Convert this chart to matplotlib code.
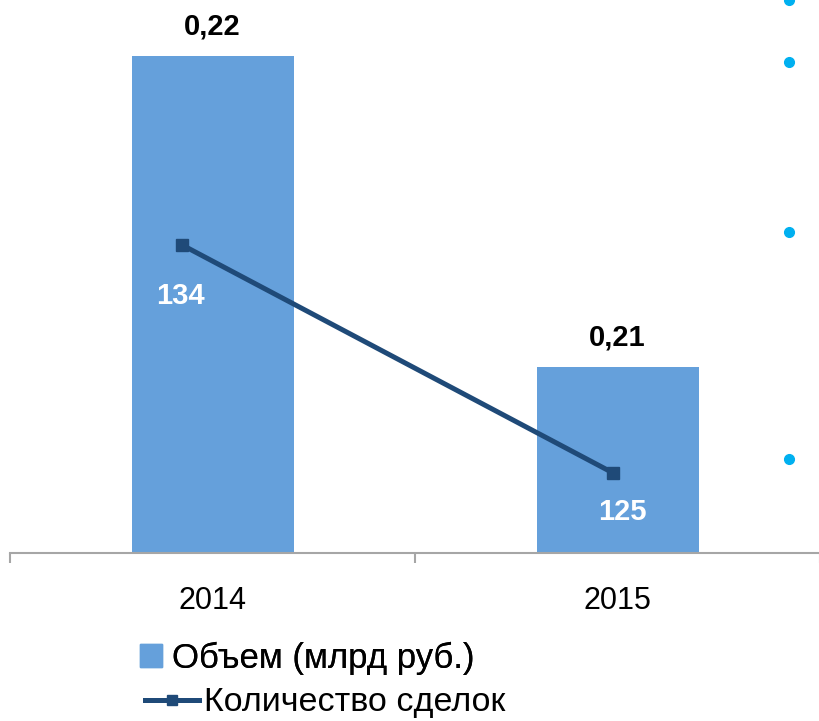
import numpy as np
import matplotlib.pyplot as plt
from matplotlib.patches import Patch
from matplotlib.lines import Line2D

plt.rcParams['font.family'] = ['Liberation Sans', 'DejaVu Sans']

years = ['2014', '2015']
volume = [0.22, 0.21]            # Объем (млрд руб.)
volume_labels = ['0,22', '0,21']
deals = [134, 125]               # Количество сделок

bar_color = '#65A0DB'
line_color = '#1F4A78'

fig = plt.figure(figsize=(8.19, 7.21), dpi=100)
W, H = 819, 721

# main axes: x from 10px to 820px, baseline at y=553px
ax = fig.add_axes([10 / W, (H - 553) / H, 810 / W, 553 / H])
x = np.arange(len(years))
bars = ax.bar(x, volume, width=0.4, color=bar_color, zorder=2)
ax.set_xlim(-0.5, len(years) - 0.5)
ax.set_ylim(0.20402, 0.2218)
ax.bar_label(bars, labels=volume_labels, padding=11, fontsize=21, fontweight='bold')

for s in ['left', 'right', 'top']:
    ax.spines[s].set_visible(False)
ax.spines['bottom'].set_color('#A6A6A6')
ax.spines['bottom'].set_linewidth(1.5)
ax.set_yticks([])
ax.set_xticks(np.arange(len(years) + 1) - 0.5)
ax.set_xticklabels([])
ax.tick_params(axis='x', which='major', length=7, width=1.5, color='#A6A6A6', direction='out')
ax.set_xticks(x, minor=True)
ax.set_xticklabels(years, minor=True, fontsize=22)
ax.tick_params(axis='x', which='minor', length=0, pad=24)

# line on its own overlay axes
ax2 = fig.add_axes(ax.get_position(), facecolor='none')
ax2.plot(x, deals, color=line_color, lw=3.6, marker='s', ms=8.5, zorder=3)
ax2.set_xlim(-0.399, 1.480)
ax2.set_ylim(121.84, 143.67)
ax2.axis('off')
label_offsets = [(-1, -37), (7, -28)]
for xi, v, off in zip(x, deals, label_offsets):
    ax2.annotate(str(v), (xi, v), xytext=off, textcoords='offset points',
                 ha='center', va='center', color='white', fontsize=21, fontweight='bold')

# legend
leg1 = fig.legend(handles=[Patch(color=bar_color)], labels=['Объем (млрд руб.)'],
                  loc='center left', bbox_to_anchor=(126 / W, (H - 658) / H),
                  frameon=False, fontsize=25, handlelength=0.63, handleheight=0.63,
                  handletextpad=0.29, borderaxespad=0)
fig.add_artist(leg1)
fig.legend(handles=[Line2D([], [], color=line_color, lw=3.6, marker='s', ms=7)],
           labels=['Количество сделок'], loc='center left',
           bbox_to_anchor=(131 / W, (H - 703) / H), frameon=False, fontsize=24.5,
           handlelength=1.6, handletextpad=0.15, borderaxespad=0)

# bullets of the slide text on the right
bullet_y = [0, 62, 232, 459]
for by in bullet_y:
    fig.add_artist(Line2D([789 / W], [(H - by) / H], marker='o', ms=7,
                          color='#00B0F0', linestyle='none', transform=fig.transFigure))

fig.savefig('out.png', dpi=100)
